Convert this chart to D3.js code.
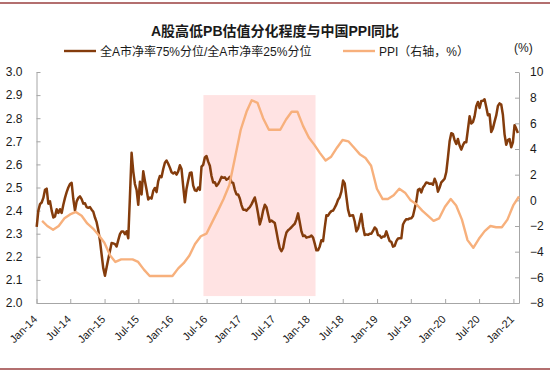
<!DOCTYPE html>
<html><head><meta charset="utf-8">
<script src="https://cdn.jsdelivr.net/npm/d3@7"></script>
<style>
body{margin:0;background:#fff}
svg{display:block}
text{font-family:"Liberation Sans",Arial,"Noto Sans CJK SC",sans-serif}
</style>
</head><body>
<svg id="c" width="550" height="371"></svg>
<script>
// ---------------- data ----------------
const title = "A股高低PB估值分化程度与中国PPI同比";
const seriesNames = ["全A市净率75%分位/全A市净率25%分位", "PPI（右轴，%）"];
const leftTicks = [2.0, 2.1, 2.2, 2.3, 2.4, 2.5, 2.6, 2.7, 2.8, 2.9, 3.0];
const rightTicks = [-8, -6, -4, -2, 0, 2, 4, 6, 8, 10];
const xTickDates = ["2014-01-01","2014-07-01","2015-01-01","2015-07-01","2016-01-01","2016-07-01",
  "2017-01-01","2017-07-01","2018-01-01","2018-07-01","2019-01-01","2019-07-01","2020-01-01",
  "2020-07-01","2021-01-01"];
const xDomain = ["2014-01-01", "2021-01-31"];
const unitLabel = "(%)";

// PB ratio (75th / 25th percentile), sampled regularly between these dates
const pbStart = "2014-01-02", pbEnd = "2021-01-25";
const pbValues = [
2.33,2.40,2.428,2.435,2.455,2.49,2.495,2.43,2.44,2.40,2.37,2.375,2.406,2.39,2.406,2.39,2.425,2.455,2.48,2.50,
2.515,2.52,2.45,2.40,2.44,2.455,2.462,2.45,2.43,2.432,2.415,2.412,2.415,2.404,2.395,2.37,2.35,2.315,2.27,2.21,
2.15,2.118,2.155,2.19,2.225,2.26,2.258,2.255,2.245,2.272,2.298,2.31,2.31,2.298,2.31,2.28,2.46,2.65,2.57,2.515,
2.49,2.425,2.525,2.47,2.57,2.528,2.49,2.448,2.457,2.452,2.485,2.498,2.48,2.528,2.55,2.545,2.58,2.607,2.617,2.603,
2.586,2.566,2.561,2.566,2.556,2.57,2.596,2.58,2.505,2.436,2.495,2.53,2.563,2.565,2.508,2.488,2.485,2.50,2.49,2.59,
2.598,2.63,2.636,2.612,2.594,2.55,2.522,2.523,2.507,2.515,2.529,2.546,2.542,2.544,2.534,2.538,2.546,2.522,2.52,2.49,
2.47,2.47,2.452,2.424,2.404,2.404,2.40,2.408,2.415,2.427,2.442,2.457,2.425,2.385,2.34,2.365,2.40,2.425,2.415,2.383,
2.352,2.357,2.352,2.346,2.31,2.27,2.237,2.224,2.238,2.277,2.305,2.315,2.321,2.328,2.336,2.343,2.362,2.388,2.35,2.31,
2.29,2.292,2.283,2.285,2.287,2.292,2.283,2.257,2.228,2.228,2.245,2.272,2.268,2.326,2.38,2.378,2.39,2.398,2.40,2.413,
2.427,2.447,2.458,2.482,2.53,2.518,2.46,2.404,2.377,2.379,2.38,2.353,2.31,2.322,2.353,2.385,2.33,2.294,2.297,2.295,
2.30,2.30,2.312,2.327,2.32,2.294,2.292,2.282,2.288,2.288,2.31,2.288,2.268,2.265,2.244,2.247,2.268,2.279,2.28,2.28,
2.34,2.354,2.363,2.362,2.366,2.367,2.377,2.408,2.44,2.49,2.494,2.479,2.50,2.51,2.522,2.52,2.516,2.517,2.512,2.538,
2.52,2.482,2.50,2.522,2.53,2.538,2.567,2.63,2.70,2.735,2.731,2.705,2.688,2.71,2.682,2.664,2.683,2.696,2.696,2.752,
2.808,2.777,2.783,2.808,2.852,2.87,2.844,2.874,2.875,2.882,2.848,2.813,2.817,2.74,2.756,2.785,2.812,2.853,2.864,2.859,
2.815,2.73,2.685,2.705,2.71,2.674,2.695,2.77,2.755,2.736
];

// PPI YoY, monthly from Jan 2014 (plotted at month end)
const ppiStartMonth = "2014-01";
const ppiValues = [
-1.6,-2.0,-2.3,-2.0,-1.4,-1.1,-0.9,-1.2,-1.8,-2.2,-2.7,-3.3,
-4.3,-4.8,-4.6,-4.6,-4.6,-4.8,-5.4,-5.9,-5.9,-5.9,-5.9,-5.9,
-5.3,-4.9,-4.3,-3.4,-2.8,-2.6,-1.7,-0.8,0.1,1.2,3.3,5.5,
6.9,7.8,7.6,6.4,5.5,5.5,5.5,6.3,6.9,6.9,5.8,4.9,
4.3,3.7,3.1,3.4,4.1,4.7,4.6,4.1,3.6,3.3,2.7,0.9,
0.1,0.1,0.4,0.9,0.6,0.0,-0.3,-0.8,-1.2,-1.6,-1.4,-0.5,
0.1,-0.4,-1.5,-3.1,-3.7,-3.0,-2.4,-2.0,-2.1,-2.1,-1.5,-0.4,
0.3
];

// highlighted period
const shadePeriod = ["2016-06-14", "2018-02-05"];
const shadeRange = [2.03, 2.9];

// ---------------- chart ----------------
const colors = {pb: "#843C0C", ppi: "#F7B07C", shade: "#FFE3E3", axis: "#A6A6A6", frame: "#9A3F3F", text: "#1a1a1a"};
const parse = d3.utcParse("%Y-%m-%d");
const svg = d3.select("#c");
const W = 550, H = 371;
const plot = {left: 36.5, right: 519, top: 72, bottom: 303};

const x = d3.scaleUtc().domain(xDomain.map(parse)).range([plot.left, plot.right]);
const yL = d3.scaleLinear().domain([2.0, 3.0]).range([plot.bottom, plot.top]);
const yR = d3.scaleLinear().domain([-8, 10]).range([plot.bottom, plot.top]);

// frame lines top & bottom
svg.append("line").attr("x1",0).attr("x2",W).attr("y1",3).attr("y2",3)
  .attr("stroke",colors.frame).attr("stroke-width",1.6);
svg.append("line").attr("x1",0).attr("x2",W).attr("y1",369).attr("y2",369)
  .attr("stroke",colors.frame).attr("stroke-width",1.6);

// title
svg.append("text").attr("x", 275).attr("y", 36).attr("text-anchor","middle")
  .attr("font-size", 14).attr("font-weight","bold").attr("fill", colors.text).text(title);

// shaded rect
svg.append("rect")
  .attr("x", x(parse(shadePeriod[0])))
  .attr("width", x(parse(shadePeriod[1])) - x(parse(shadePeriod[0])))
  .attr("y", yL(shadeRange[1]))
  .attr("height", yL(shadeRange[0]) - yL(shadeRange[1]))
  .attr("fill", colors.shade);

// axes
function styleAxis(g){
  g.selectAll("path,line").attr("stroke", colors.axis);
  g.selectAll("text").attr("fill", colors.text).attr("font-size", 12)
   .attr("font-family", '"Liberation Sans",Arial,sans-serif');
}
svg.append("g").attr("transform",`translate(${plot.left},0)`)
  .call(d3.axisLeft(yL).tickValues(leftTicks).tickFormat(d3.format(".1f")).tickSizeInner(-4).tickSizeOuter(0).tickPadding(14))
  .call(styleAxis);
svg.append("g").attr("transform",`translate(${plot.right},0)`)
  .call(d3.axisRight(yR).tickValues(rightTicks).tickFormat(d3.format("d")).tickSizeInner(-4).tickSizeOuter(0).tickPadding(11))
  .call(styleAxis);
const xg = svg.append("g").attr("transform",`translate(0,${plot.bottom})`)
  .call(d3.axisBottom(x).tickValues(xTickDates.map(parse)).tickFormat(d3.utcFormat("%b-%y")).tickSizeInner(-4).tickSizeOuter(0))
  .call(styleAxis);
xg.selectAll("text").attr("font-size", 11).attr("text-anchor","end").attr("y",0).attr("dy",0)
  .attr("transform","translate(1,17) rotate(-45)");

// unit label
svg.append("text").attr("x", 514).attr("y", 52).attr("font-size", 12).attr("fill", colors.text).text(unitLabel);

// PB line
const t0 = parse(pbStart).getTime(), t1 = parse(pbEnd).getTime();
const pbData = pbValues.map((v,i) => ({date: new Date(t0 + (t1 - t0) * i / (pbValues.length - 1)), v}));
svg.append("path").datum(pbData)
  .attr("fill","none").attr("stroke",colors.pb).attr("stroke-width",2.5).attr("stroke-linejoin","round")
  .attr("d", d3.line().x(d => x(d.date)).y(d => yL(d.v)));

// PPI line (month-end)
const m0 = d3.utcParse("%Y-%m")(ppiStartMonth);
const ppiData = ppiValues.map((v,i) => ({date: d3.utcDay.offset(d3.utcMonth.offset(m0, i+1), -1), v}));
svg.append("path").datum(ppiData)
  .attr("fill","none").attr("stroke",colors.ppi).attr("stroke-width",2.4).attr("stroke-linejoin","round")
  .attr("d", d3.line().x(d => x(d.date)).y(d => yR(d.v)));

// legend
const legend = [
  {name: seriesNames[0], color: colors.pb, x: 64},
  {name: seriesNames[1], color: colors.ppi, x: 343}
];
legend.forEach(l => {
  svg.append("line").attr("x1", l.x).attr("x2", l.x + 32).attr("y1", 51).attr("y2", 51)
    .attr("stroke", l.color).attr("stroke-width", 2.4);
  svg.append("text").attr("x", l.x + 36).attr("y", 55.5).attr("font-size", 12)
    .attr("fill", colors.text).text(l.name);
});
</script>
</body></html>
